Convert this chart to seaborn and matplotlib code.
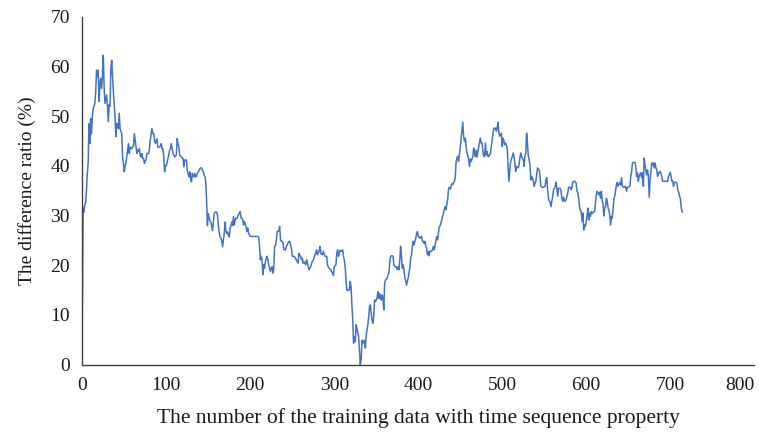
import matplotlib
matplotlib.use("Agg")
import matplotlib.pyplot as plt
import seaborn as sns
import pandas as pd

# Difference ratio (%) for each training-sample count 0..715
ratio = [
    8.9, 31.7, 30.7, 32.0, 32.7, 35.0, 38.5, 40.5, 48.5, 44.5,
    49.5, 46.5, 50.0, 51.6, 52.0, 52.6, 55.0, 59.3, 58.0, 59.3,
    53.0, 56.6, 57.6, 55.6, 58.0, 62.3, 56.0, 52.6, 53.5, 54.3,
    52.0, 48.9, 52.3, 52.0, 59.3, 61.3, 58.0, 55.0, 52.6, 49.9,
    45.9, 48.6, 48.0, 47.5, 50.6, 47.5, 47.0, 46.5, 41.8, 40.5,
    38.8, 40.0, 40.5, 41.8, 43.2, 44.5, 42.5, 43.8, 43.5, 43.5,
    43.8, 44.0, 46.5, 45.2, 44.0, 42.5, 43.2, 43.0, 43.5, 42.0,
    41.8, 42.5, 41.5, 41.5, 40.5, 41.0, 41.2, 42.5, 42.5, 42.5,
    43.5, 45.2, 46.5, 47.5, 46.5, 46.5, 45.2, 44.5, 45.0, 45.5,
    43.8, 43.8, 43.8, 44.0, 44.5, 43.5, 43.5, 41.8, 38.8, 40.1,
    40.0, 40.8, 41.5, 42.2, 43.2, 43.5, 44.5, 43.5, 42.5, 42.2,
    41.8, 42.0, 42.2, 45.5, 44.5, 43.8, 42.2, 42.0, 41.8, 41.5,
    41.5, 39.8, 41.2, 41.2, 41.2, 39.1, 38.5, 37.8, 38.8, 37.5,
    36.8, 38.5, 38.0, 37.8, 38.5, 37.8, 38.0, 38.5, 38.8, 39.0,
    39.5, 39.6, 39.6, 39.2, 38.8, 38.3, 37.8, 36.8, 33.1, 28.0,
    30.4, 29.5, 29.0, 28.7, 28.0, 27.0, 28.5, 30.4, 30.7, 30.7,
    30.7, 30.1, 28.0, 26.7, 25.7, 25.5, 25.0, 23.7, 25.0, 26.4,
    28.7, 27.0, 26.4, 26.7, 26.0, 25.7, 27.4, 28.0, 28.7, 28.0,
    29.8, 28.1, 29.0, 29.5, 29.4, 29.8, 30.2, 30.5, 30.8, 29.5,
    29.5, 29.2, 28.1, 28.8, 28.2, 27.8, 26.8, 27.5, 26.5, 26.1,
    25.8, 25.8, 25.8, 25.8, 25.8, 25.8, 25.8, 25.8, 25.8, 25.8,
    25.6, 24.0, 21.1, 21.8, 21.1, 18.1, 20.1, 19.4, 20.7, 21.3,
    21.8, 21.1, 20.1, 19.4, 18.7, 19.4, 19.7, 18.4, 19.4, 23.8,
    23.9, 25.0, 26.8, 26.8, 27.0, 27.8, 25.1, 24.8, 24.8, 24.5,
    23.1, 23.1, 23.1, 23.8, 24.1, 24.5, 24.8, 24.8, 24.0, 23.4,
    21.8, 21.8, 21.8, 21.6, 21.4, 21.0, 20.7, 20.4, 22.4, 22.0,
    21.8, 21.1, 21.4, 20.4, 20.7, 20.4, 20.1, 21.1, 20.5, 19.7,
    19.1, 19.4, 19.7, 20.4, 20.8, 21.1, 21.5, 22.1, 22.4, 23.1,
    22.1, 22.5, 22.8, 23.8, 22.4, 22.2, 22.1, 22.8, 22.3, 21.8,
    21.8, 21.8, 20.1, 19.6, 19.4, 19.2, 19.1, 18.7, 18.3, 17.9,
    19.7, 19.9, 20.1, 22.4, 23.1, 21.8, 22.5, 23.0, 22.8, 22.9,
    23.1, 21.8, 21.0, 19.7, 17.0, 15.0, 14.9, 15.0, 15.0, 16.7,
    15.7, 12.0, 9.0, 4.3, 5.6, 4.6, 8.0, 7.3, 6.5, 5.6,
    2.9, 0.0, 0.9, 4.9, 4.5, 4.3, 4.9, 3.3, 5.9, 7.0,
    8.0, 9.6, 11.7, 12.0, 10.3, 9.0, 8.3, 9.6, 13.0, 12.7,
    13.0, 13.5, 14.7, 13.3, 14.3, 13.5, 13.0, 14.0, 13.3, 11.0,
    16.5, 17.0, 17.2, 17.4, 18.0, 18.4, 20.4, 21.8, 21.9, 21.9,
    21.8, 20.1, 19.7, 19.7, 19.7, 19.1, 19.7, 19.1, 21.0, 23.8,
    21.8, 19.4, 20.1, 19.1, 17.5, 17.0, 16.0, 16.7, 17.4, 18.5,
    19.4, 21.4, 22.1, 23.8, 24.8, 24.1, 24.8, 25.4, 26.3, 26.8,
    25.8, 25.8, 25.4, 25.6, 25.8, 24.8, 24.8, 24.4, 24.8, 23.8,
    23.4, 22.1, 22.8, 21.9, 22.8, 22.8, 22.8, 23.1, 23.8, 23.1,
    24.0, 24.8, 25.8, 25.1, 26.5, 27.8, 27.9, 28.5, 29.1, 29.8,
    30.5, 31.2, 31.8, 31.2, 32.2, 33.2, 35.3, 35.7, 35.3, 35.9,
    36.4, 36.2, 36.7, 36.9, 37.6, 40.6, 41.6, 41.9, 40.9, 42.3,
    43.6, 45.6, 47.3, 48.8, 46.0, 45.0, 45.6, 43.9, 42.6, 42.0,
    41.3, 39.9, 41.4, 40.9, 41.4, 41.9, 43.6, 42.6, 41.9, 43.2,
    41.8, 42.8, 43.9, 44.8, 45.6, 44.6, 44.6, 43.0, 41.9, 41.9,
    44.6, 42.2, 42.9, 41.9, 41.9, 42.2, 42.6, 43.9, 45.3, 46.5,
    47.6, 47.6, 47.6, 47.0, 47.8, 48.8, 46.6, 46.0, 46.3, 46.6,
    43.9, 45.6, 45.0, 44.3, 44.6, 44.1, 43.6, 39.6, 36.9, 39.2,
    40.9, 41.5, 41.9, 42.6, 41.9, 40.6, 38.9, 39.9, 39.7, 39.6,
    40.2, 41.6, 42.6, 41.9, 41.5, 41.3, 39.9, 41.9, 42.6, 46.6,
    44.6, 42.0, 41.3, 40.2, 37.2, 37.9, 37.5, 36.9, 35.9, 36.5,
    36.9, 38.2, 39.6, 39.4, 39.2, 37.9, 35.9, 35.8, 35.7, 35.7,
    35.8, 35.9, 37.2, 37.7, 35.2, 33.5, 32.9, 32.7, 31.8, 32.9,
    33.8, 35.2, 35.5, 35.9, 36.7, 35.5, 33.9, 35.5, 35.5, 35.5,
    34.9, 33.5, 32.9, 33.7, 32.9, 32.9, 33.2, 33.9, 34.5, 35.7,
    35.7, 35.7, 35.2, 35.7, 36.7, 36.9, 36.9, 36.8, 36.5, 34.9,
    34.5, 33.5, 31.8, 31.0, 30.8, 28.8, 30.5, 27.1, 28.1, 27.8,
    28.8, 30.0, 31.5, 29.1, 30.5, 29.8, 30.8, 30.4, 30.6, 30.8,
    30.8, 32.5, 34.2, 34.9, 34.5, 34.2, 34.7, 33.5, 34.9, 33.0,
    32.5, 29.9, 31.5, 31.8, 33.5, 32.9, 31.5, 31.2, 30.0, 28.1,
    29.8, 29.5, 31.5, 33.5, 33.9, 35.2, 36.2, 36.7, 35.9, 36.3,
    36.7, 36.2, 37.6, 35.9, 35.8, 35.7, 35.9, 35.7, 34.9, 35.7,
    35.7, 35.8, 35.9, 37.9, 38.7, 40.6, 40.7, 40.7, 40.7, 39.9,
    37.9, 38.6, 36.9, 37.9, 38.3, 38.7, 37.6, 38.6, 35.9, 41.6,
    40.2, 39.0, 38.2, 39.2, 37.9, 33.7, 37.2, 38.8, 40.6, 40.2,
    40.6, 39.6, 40.6, 39.6, 39.2, 37.9, 38.6, 38.6, 38.9, 38.5,
    37.9, 36.9, 36.9, 36.9, 36.9, 36.9, 36.9, 36.9, 37.9, 38.3,
    38.7, 37.9, 36.9, 36.9, 35.9, 36.7, 36.7, 36.7, 36.5, 35.2,
    34.7, 34.0, 33.5, 31.8, 30.8, 30.7,
]
samples = list(range(len(ratio)))

x_ticks = [0, 100, 200, 300, 400, 500, 600, 700, 800]
y_ticks = [0, 10, 20, 30, 40, 50, 60, 70]

sns.set_style("white")
plt.rcParams["font.family"] = ["Liberation Serif", "DejaVu Serif"]

df = pd.DataFrame({"samples": samples, "ratio": ratio})

fig = plt.figure(figsize=(7.59, 4.38), dpi=100)
ax = fig.add_axes([0.1084, 0.1678, 0.8853, 0.7934])

sns.lineplot(data=df, x="samples", y="ratio", ax=ax, color="#4472C4",
             linewidth=1.1, estimator=None)

ax.set_xlim(0, 800)
ax.set_ylim(0, 70)
ax.set_xticks(x_ticks)
ax.set_yticks(y_ticks)
ax.tick_params(axis="x", direction="out", length=5, width=1, color="#404040",
               labelsize=14, pad=4, labelcolor="#1a1a1a")
ax.tick_params(axis="y", length=0, labelsize=14, pad=9, labelcolor="#1a1a1a")

# keep the last x tick label inside the figure, aligned to the right
last = ax.get_xticklabels()[-1]
last.set_horizontalalignment("right")
last.set_x(800)

for side in ("top", "right"):
    ax.spines[side].set_visible(False)
for side in ("left", "bottom"):
    ax.spines[side].set_color("#404040")
    ax.spines[side].set_linewidth(1.0)

ax.set_xlabel("The number of the training data with time sequence property",
              fontsize=15.5, color="#1a1a1a", labelpad=10)
ax.set_ylabel("The difference ratio (%)", fontsize=14, color="#1a1a1a",
              labelpad=10)

fig.savefig("out.png", dpi=100)
